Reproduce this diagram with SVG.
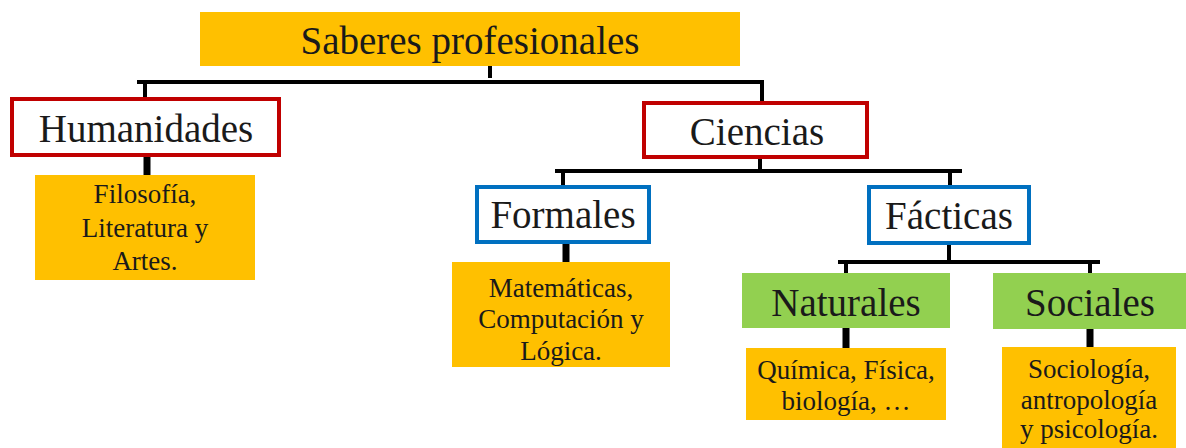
<svg xmlns="http://www.w3.org/2000/svg" width="1186" height="448" viewBox="0 0 1186 448">
<style>
text{font-family:"Liberation Serif","DejaVu Serif",serif;fill:#1a1a1a;text-anchor:middle}
.t{font-size:39px}
.s{font-size:27px}
.yel{fill:#FFC000}
.red{fill:#fff;stroke:#C00000;stroke-width:4}
.blue{fill:#fff;stroke:#0070C0;stroke-width:4}
.grn{fill:#92D050}
.ln{stroke:#000;stroke-width:4;fill:none}
.thk{stroke:#000;stroke-width:7;fill:none}
</style>
<rect width="1186" height="448" fill="#fff"/>
<g id="connectors">
<path class="ln" d="M490 66V78M137 82H764M145 82V98M762 82V102"/>
<path class="thk" d="M147 155V175"/>
<path class="ln" d="M760 157V171M555 171H962M563 171V186M950 171V186"/>
<path class="thk" d="M566 242V262"/>
<path class="ln" d="M949 243V262M838 262H1100M846 262V273M1090 262V273"/>
<path class="thk" d="M846 328V348M1090 329V347"/>
</g>
<g id="saberes"><rect class="yel" x="200" y="12" width="540" height="54"/><text class="t" x="470" y="54">Saberes profesionales</text></g>
<g id="humanidades"><rect class="red" x="12" y="99" width="267" height="56"/><text class="t" x="146" y="142">Humanidades</text></g>
<g id="filosofia"><rect class="yel" x="35" y="175" width="220" height="105"/><text class="s" x="145" y="203">Filosofía,</text><text class="s" x="145" y="237">Literatura y</text><text class="s" x="145" y="270">Artes.</text></g>
<g id="ciencias"><rect class="red" x="644" y="103" width="223" height="54"/><text class="t" x="757" y="145">Ciencias</text></g>
<g id="formales"><rect class="blue" x="477" y="187" width="172" height="55"/><text class="t" x="563" y="228">Formales</text></g>
<g id="matematicas"><rect class="yel" x="452" y="262" width="218" height="105"/><text class="s" x="561" y="297">Matemáticas,</text><text class="s" x="561" y="328">Computación y</text><text class="s" x="561" y="360">Lógica.</text></g>
<g id="facticas"><rect class="blue" x="869" y="187" width="160" height="56"/><text class="t" x="949" y="229">Fácticas</text></g>
<g id="naturales"><rect class="grn" x="742" y="273" width="208" height="55"/><text class="t" x="846" y="316">Naturales</text></g>
<g id="quimica"><rect class="yel" x="746" y="348" width="200" height="72"/><text class="s" x="846" y="379">Química, Física,</text><text class="s" x="846" y="410">biología, …</text></g>
<g id="sociales"><rect class="grn" x="993" y="273" width="193" height="56"/><text class="t" x="1090" y="316">Sociales</text></g>
<g id="sociologia"><rect class="yel" x="1002" y="347" width="174" height="101"/><text class="s" x="1089" y="378">Sociología,</text><text class="s" x="1089" y="409">antropología</text><text class="s" x="1089" y="438">y psicología.</text></g>
</svg>
